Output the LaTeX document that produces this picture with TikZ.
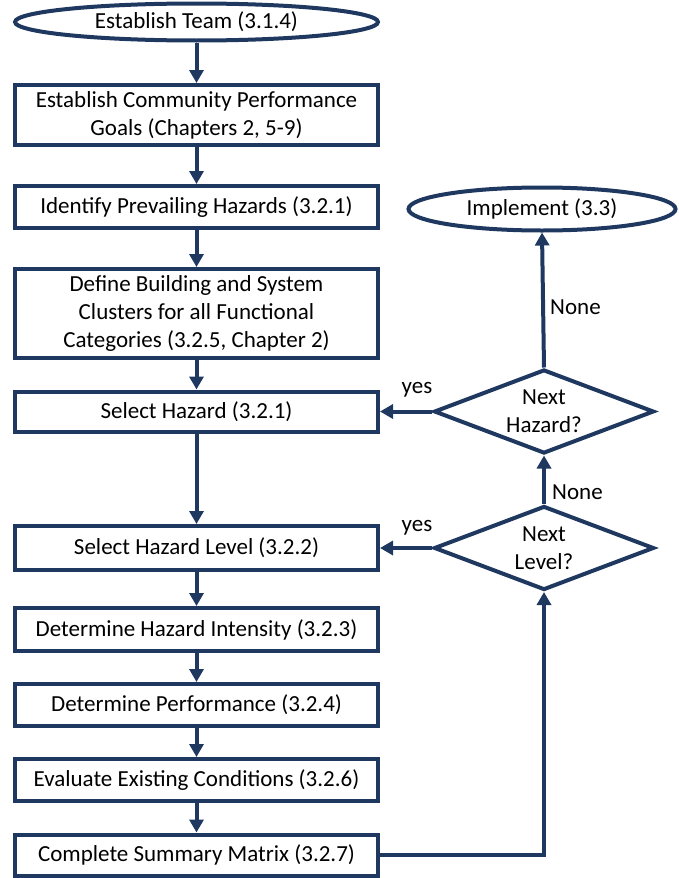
\documentclass[tikz,border=0pt]{standalone}
\usepackage{fontspec}
\setmainfont{Carlito}
\usetikzlibrary{shapes.geometric,arrows.meta}
\definecolor{navy}{RGB}{31,56,96}
\begin{document}
\begin{tikzpicture}[x=1pt,y=-1pt,
  every node/.style={font=\fontsize{23}{28}\selectfont, text=black},
  box/.style={draw=navy, line width=4pt, rectangle, minimum width=363pt, inner sep=0pt, align=center, fill=white},
  oval/.style={draw=navy, line width=4pt, ellipse, inner sep=0pt, align=center, fill=white},
  dec/.style={draw=navy, line width=4pt, diamond, aspect=2.6, minimum width=220pt, minimum height=84pt, inner sep=0pt, align=center, fill=white},
  arr/.style={draw=navy, line width=4pt, -{Triangle[width=14pt,length=13pt]}},
  lab/.style={inner sep=0pt}
]
\useasboundingbox (0,0) rectangle (679,878);
\node[oval, minimum width=363pt, minimum height=37pt] (b1) at (196.5,22) {Establish Team (3.1.4)};
\node[box, minimum height=60pt] (b2) at (196.5,115) {Establish Community Performance\\Goals (Chapters 2, 5-9)};
\node[box, minimum height=42pt] (b3) at (196.5,207) {Identify Prevailing Hazards (3.2.1)};
\node[box, minimum height=89pt] (b4) at (196.5,313.5) {Define Building and System\\Clusters for all Functional\\Categories (3.2.5, Chapter 2)};
\node[box, minimum height=40pt] (b5) at (196.5,411.5) {Select Hazard (3.2.1)};
\node[box, minimum height=44pt] (b6) at (196.5,548) {Select Hazard Level (3.2.2)};
\node[box, minimum height=43pt] (b7) at (196.5,629.5) {Determine Hazard Intensity (3.2.3)};
\node[box, minimum height=42pt] (b8) at (196.5,705) {Determine Performance (3.2.4)};
\node[box, minimum height=42pt] (b9) at (196.5,780) {Evaluate Existing Conditions (3.2.6)};
\node[box, minimum height=41pt] (b10) at (196.5,855) {Complete Summary Matrix (3.2.7)};
\node[oval, minimum width=267pt, minimum height=43pt] (e2) at (542,209) {Implement (3.3)};
\node[dec] (d1) at (544,411.5) {Next\\Hazard?};
\node[dec] (d2) at (544,548) {Next\\Level?};
\draw[arr] (b1) -- (b2);
\draw[arr] (b2) -- (b3);
\draw[arr] (b3) -- (b4);
\draw[arr] (b4) -- (b5);
\draw[arr] (b5) -- (b6);
\draw[arr] (b6) -- (b7);
\draw[arr] (b7) -- (b8);
\draw[arr] (b8) -- (b9);
\draw[arr] (b9) -- (b10);
\draw[arr] (b10.east) -| (d2.south);
\draw[arr] (d2.north) -- (d1.south);
\draw[arr] (d1.north) -- (e2.south);
\draw[arr] (d1.west) -- (b5.east);
\draw[arr] (d2.west) -- (b6.east);
\node[lab, anchor=west] (n1) at (550,307) {None};
\node[lab, anchor=west] (n2) at (552,492) {None};
\node[lab] (y1) at (417,390) {yes};
\node[lab] (y2) at (417,528) {yes};
\end{tikzpicture}
\end{document}
